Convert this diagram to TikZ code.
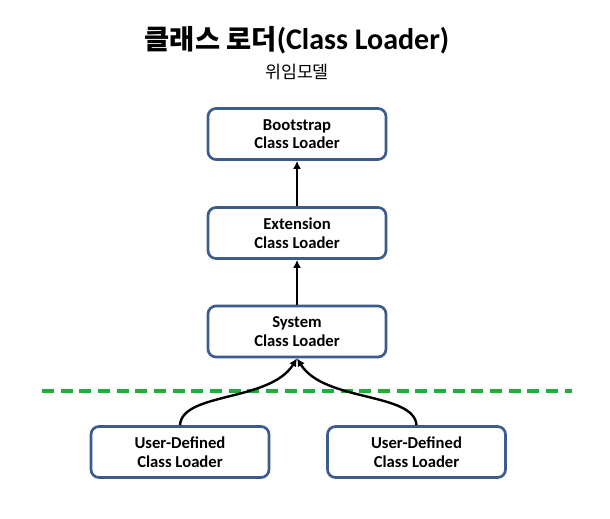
\documentclass[tikz,border=0pt]{standalone}
\usepackage{fontspec}
\setmainfont{Carlito}
\newfontfamily\cjk{Noto Sans CJK KR}
\begin{document}
\begin{tikzpicture}[x=0.75pt,y=-0.75pt,
  box/.style={draw=boxc,line width=2pt,rounded corners=6pt,minimum width=178*0.75pt,minimum height=51*0.75pt,align=center,font=\bfseries\fontsize{12.5pt}{14pt}\selectfont,inner sep=0pt},
  arr/.style={draw=black,line width=1.8pt,-{Latex[length=6pt,width=6pt]}}]
\usetikzlibrary{arrows.meta}
\definecolor{boxc}{HTML}{3B5C8C}
\definecolor{grn}{HTML}{1DAF3A}
\useasboundingbox (0,0) rectangle (610,518);
\node (title) at (297,40) {{\cjk\bfseries\fontsize{20.5pt}{22pt}\selectfont 클래스 로더}{\bfseries\fontsize{22.5pt}{22pt}\selectfont(Class Loader)}};
\node (sub) at (297,72) {\cjk\fontsize{13pt}{15pt}\selectfont 위임모델};
\node[box] (boot) at (297,134) {Bootstrap\\Class Loader};
\node[box] (ext) at (297,233) {Extension\\Class Loader};
\node[box] (sys) at (297,331.5) {System\\Class Loader};
\node[box] (u1) at (180,452) {User-Defined\\Class Loader};
\node[box] (u2) at (416.5,452) {User-Defined\\Class Loader};
\coordinate (dl) at (42,391);
\coordinate (dr) at (572,391);
\draw[grn,line width=2.4pt,dash pattern=on 9pt off 5pt] (dl) -- (dr);
\draw[arr] (ext.north) -- (boot.south);
\draw[arr] (sys.north) -- (ext.south);
\draw[arr] (u1.north) .. controls (182,392) and (270,402) .. (sys.south);
\draw[arr] (u2.north) .. controls (414,392) and (324,402) .. (sys.south);
\end{tikzpicture}
\end{document}
